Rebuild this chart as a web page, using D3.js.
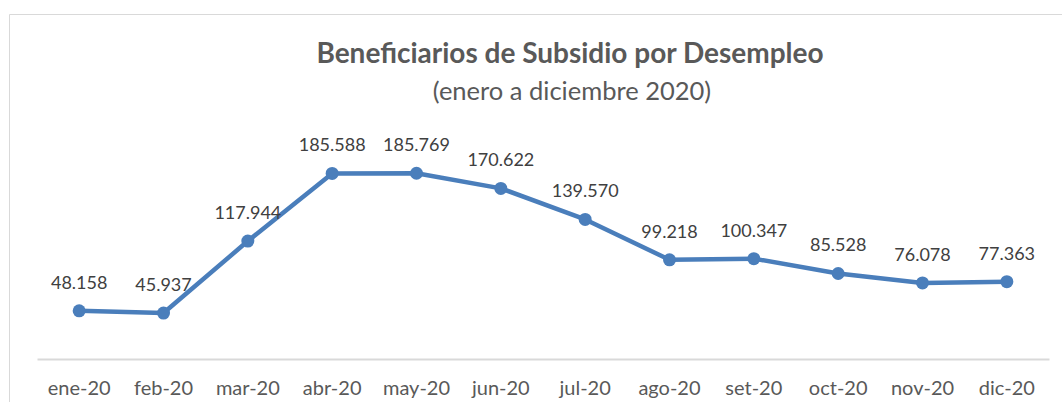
<!DOCTYPE html>
<html>
<head>
<meta charset="utf-8">
<script src="https://cdn.jsdelivr.net/npm/d3@7"></script>
<style>
  body { margin: 0; background: #fff; }
  svg { display: block; font-family: Lato, "Open Sans", sans-serif; }
</style>
</head>
<body>
<svg id="chart" width="1062" height="402"></svg>
<script>
// datos
const months = ["ene-20", "feb-20", "mar-20", "abr-20", "may-20", "jun-20",
                "jul-20", "ago-20", "set-20", "oct-20", "nov-20", "dic-20"];
const beneficiarios = [48158, 45937, 117944, 185588, 185769, 170622,
                       139570, 99218, 100347, 85528, 76078, 77363];
const titleText = "Beneficiarios de Subsidio por Desempleo";
const subtitleText = "(enero a diciembre 2020)";

const svg = d3.select("#chart");
const width = +svg.attr("width");
const height = +svg.attr("height");

// borde del área del gráfico
svg.append("path")
    .attr("d", "M9.5,402 L9.5,14.5 L1062,14.5")
    .attr("fill", "none")
    .attr("stroke", "#d9d9d9")
    .attr("stroke-width", 1);

const x = d3.scaleBand()
    .domain(months)
    .range([37, 1049]);

const y = d3.scaleLinear()
    .domain([0, 200000])
    .range([359, 159]);

const fmt = v => d3.format(",")(v).replace(/,/g, ".");

// título
svg.append("text")
    .attr("x", 570)
    .attr("y", 63)
    .attr("text-anchor", "middle")
    .attr("fill", "#595959")
    .style("font-size", "28px")
    .style("font-weight", "bold")
    .text(titleText);

svg.append("text")
    .attr("x", 572)
    .attr("y", 100)
    .attr("text-anchor", "middle")
    .attr("fill", "#595959")
    .style("font-size", "25.5px")
    .text(subtitleText);

// eje x
const xAxis = svg.append("g")
    .attr("transform", `translate(0,${y(0)})`)
    .call(d3.axisBottom(x).tickSize(0).tickPadding(0));
xAxis.select(".domain").attr("stroke", "#d9d9d9").attr("stroke-width", 2);
xAxis.selectAll("text")
    .attr("y", 36)
    .attr("dy", 0)
    .attr("fill", "#595959")
    .style("font-size", "20px")
    .style("font-family", "Lato, 'Open Sans', sans-serif");

const cx = d => x(d) + x.bandwidth() / 2;

// línea
const line = d3.line()
    .x((d, i) => cx(months[i]))
    .y(d => y(d));

svg.append("path")
    .datum(beneficiarios)
    .attr("fill", "none")
    .attr("stroke", "#4A7EBB")
    .attr("stroke-width", 4.5)
    .attr("stroke-linejoin", "round")
    .attr("d", line);

svg.selectAll("circle.pt")
    .data(beneficiarios)
    .enter()
    .append("circle")
    .attr("class", "pt")
    .attr("cx", (d, i) => cx(months[i]))
    .attr("cy", d => y(d))
    .attr("r", 6.5)
    .attr("fill", "#4A7EBB");

// etiquetas de datos
svg.selectAll("text.lbl")
    .data(beneficiarios)
    .enter()
    .append("text")
    .attr("class", "lbl")
    .attr("x", (d, i) => cx(months[i]))
    .attr("y", d => y(d) - 22)
    .attr("text-anchor", "middle")
    .attr("fill", "#404040")
    .style("font-size", "18px")
    .text(d => fmt(d));
</script>
</body>
</html>
